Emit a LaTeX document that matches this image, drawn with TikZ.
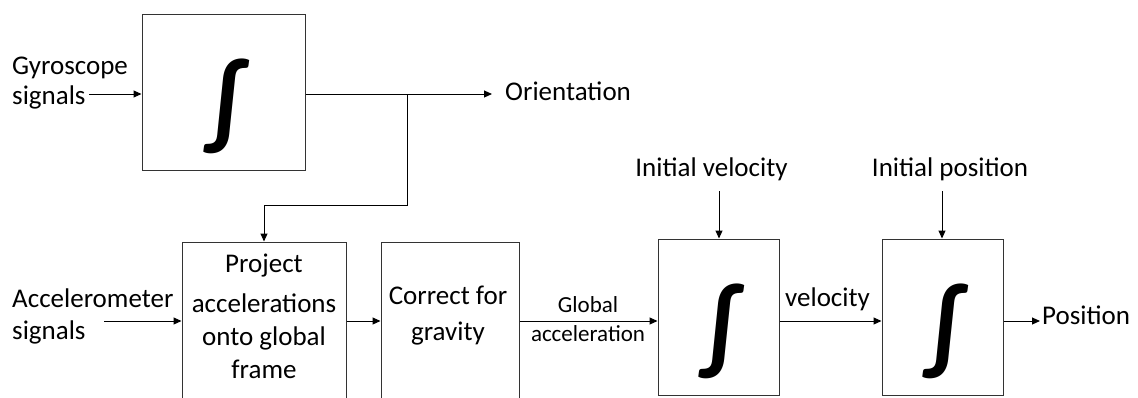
\documentclass[tikz,border=0pt]{standalone}
\usepackage{fontspec}
\setmainfont{Carlito}
\usetikzlibrary{arrows.meta}
\newcommand{\integralsign}{\kern6pt\raisebox{-45pt}[0pt][0pt]{∫}}
\begin{document}
\begin{tikzpicture}[x=1pt,y=-1pt,
  blk/.style={draw=black!80, line width=1pt, rectangle, inner sep=0pt},
  arr/.style={draw=black, line width=1pt, -{Triangle[length=8pt,width=7pt]}},
  lbl/.style={inner sep=0pt, font=\fontsize{27}{30}\selectfont},
  intg/.style={font=\bfseries\fontsize{102}{102}\selectfont}]
\useasboundingbox (0,0) rectangle (1138,397);
\fill[white] (0,0) rectangle (1138,397);
% boxes
\node[blk, minimum width=163pt, minimum height=156pt, intg] (gyro) at (223.5,92) {\integralsign};
\node[blk, minimum width=164pt, minimum height=160pt] (proj) at (264,322) {};
\node[blk, minimum width=138pt, minimum height=160pt] (grav) at (450,322) {};
\node[blk, minimum width=121pt, minimum height=156pt, intg] (int1) at (718.5,317) {\integralsign};
\node[blk, minimum width=121pt, minimum height=156pt, intg] (int2) at (942.5,317) {\integralsign};
% texts
\node[lbl, anchor=base west, align=left] (gyrotxt) at (12,104) {Gyroscope\\signals};
\node[lbl, anchor=base west, align=left, font=\fontsize{27}{32}\selectfont] (acctxt) at (12,339) {Accelerometer\\signals};
\node[lbl, anchor=base west] (orient) at (505,100) {Orientation};
\node[lbl, anchor=base, align=center, font=\fontsize{27}{33}\selectfont] (projtxt) at (264,378) {Project\\[7pt]accelerations\\onto global\\frame};
\node[lbl, anchor=base, align=center, font=\fontsize{27}{36}\selectfont] (gravtxt) at (448,340) {Correct for\\gravity};
\node[lbl, anchor=base, align=center, font=\fontsize{23}{29}\selectfont] (glob) at (588,341.7) {Global\\acceleration};
\node[lbl, anchor=base] (vel) at (827.5,306) {velocity};
\node[lbl, anchor=base] (ivel) at (711.5,176.7) {Initial velocity};
\node[lbl, anchor=base] (ipos) at (950,176.7) {Initial position};
\node[lbl, anchor=base west] (pos) at (1042,324) {Position};
% connector coordinates
\coordinate (gin) at (89,94);
\coordinate (otip) at (492,94);
\coordinate (br) at (407,94);
\coordinate (bend) at (407,205);
\coordinate (ain) at (104,321);
\coordinate (ptip) at (1040,321);
\coordinate (ivtop) at (719,191);
\coordinate (iptop) at (942,191);
% connectors
\draw[arr] (gin) -- (gin -| gyro.west);
\draw[arr] (gyro.east |- otip) -- (otip);
\draw[arr] (br) -- (bend) -| (proj.north);
\draw[arr] (ain) -- (ain -| proj.west);
\draw[arr] (proj.east |- ain) -- (grav.west |- ain);
\draw[arr] (grav.east |- ain) -- (int1.west |- ain);
\draw[arr] (int1.east |- ain) -- (int2.west |- ain);
\draw[arr] (int2.east |- ptip) -- (ptip);
\draw[arr] (ivtop) -- (ivtop |- int1.north);
\draw[arr] (iptop) -- (iptop |- int2.north);
\end{tikzpicture}
\end{document}
